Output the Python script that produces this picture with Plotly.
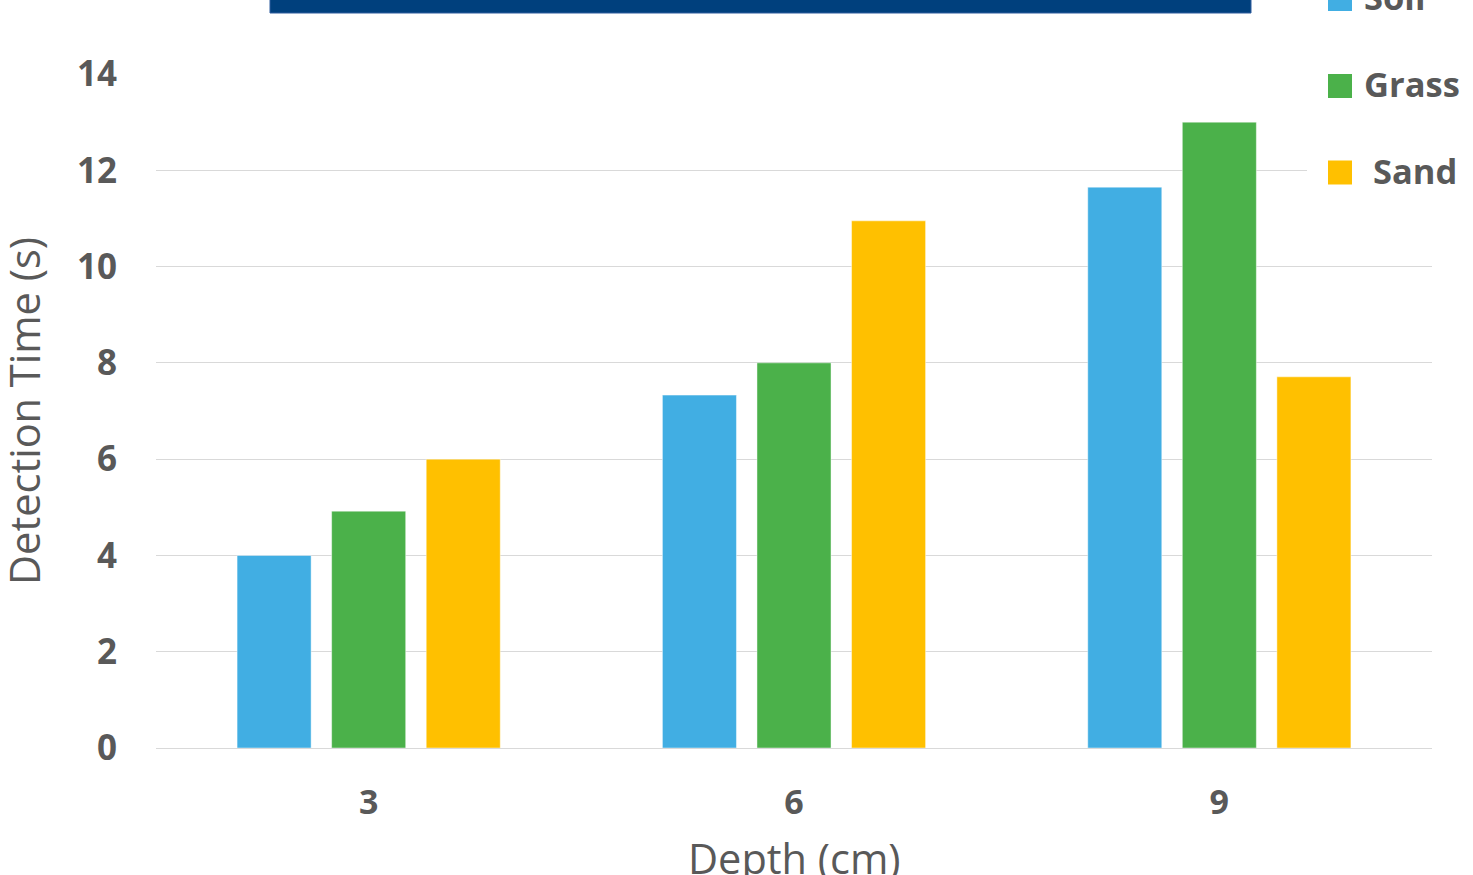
import plotly.graph_objects as go

# Detection time by burial depth for three ground covers
depths = ["3", "6", "9"]
series_names = ["Soil", "Grass", "Sand"]
soil_times = [4.0, 7.33, 11.65]
grass_times = [4.92, 8.0, 13.0]
sand_times = [6.0, 10.95, 7.71]
series_colors = ["#41AEE3", "#4BB14A", "#FFC000"]

W, H = 1473, 875
ML, MR, MT, MB = 156, 41, 74, 127
PW, PH = W - ML - MR, H - MT - MB


def px_x(x):
    return (x - ML) / PW


def px_y(y):
    return (H - MB - y) / PH


TEXT_GREY = "#595959"
GRID = "#D9D9D9"

fig = go.Figure()
for name, vals, col in zip(series_names, [soil_times, grass_times, sand_times], series_colors):
    fig.add_trace(go.Bar(
        x=depths, y=vals, name=name,
        marker=dict(color=col, line=dict(color="rgba(255,255,255,0.45)", width=1)),
        showlegend=False,
    ))

shapes = [
    # header band across the top
    dict(type="rect", xref="paper", yref="paper",
         x0=px_x(270), x1=px_x(1251), y0=px_y(13), y1=px_y(-20),
         fillcolor="#00407D", line=dict(color="#2E5C9E", width=1), layer="above"),
    # legend backdrop
    dict(type="rect", xref="paper", yref="paper",
         x0=px_x(1307), x1=px_x(W + 5), y0=px_y(220), y1=px_y(-5),
         fillcolor="white", line=dict(width=0), layer="above"),
]

annotations = [
    dict(text="Detection Time (s)", xref="paper", yref="paper",
         x=px_x(24), y=0.5, xanchor="center", yanchor="middle", textangle=-90,
         showarrow=False, font=dict(family="Open Sans", size=41.5, color=TEXT_GREY)),
    dict(text="Depth (cm)", xref="paper", yref="paper",
         x=px_x(794), y=px_y(858), xanchor="center", yanchor="middle",
         showarrow=False, font=dict(family="Open Sans", size=41.5, color=TEXT_GREY)),
]

# legend entries: square swatch + label
legend_rows = [(-1, 0), (86, 0), (172.5, 9)]
for (cy, dx), name, col in zip(legend_rows, series_names, series_colors):
    shapes.append(dict(type="rect", xref="paper", yref="paper",
                       x0=px_x(1328), x1=px_x(1352), y0=px_y(cy + 12), y1=px_y(cy - 12),
                       fillcolor=col, line=dict(width=0), layer="above"))
    annotations.append(dict(text=name, xref="paper", yref="paper",
                            x=px_x(1362 + dx), y=px_y(cy - 2.5), xanchor="left", yanchor="middle",
                            showarrow=False,
                            font=dict(family="Open Sans", size=34.5, color=TEXT_GREY, weight="bold")))

fig.update_layout(
    width=W, height=H,
    margin=dict(l=ML, r=MR, t=MT, b=MB, autoexpand=False),
    paper_bgcolor="white", plot_bgcolor="white",
    barmode="group", bargap=0.333, bargroupgap=0.217,
    shapes=shapes, annotations=annotations,
    showlegend=False,
)
fig.update_xaxes(
    type="category", showgrid=False, zeroline=False, showline=False, ticks="",
    ticklabelstandoff=31,
    tickfont=dict(family="Open Sans", size=34, color=TEXT_GREY, weight="bold"),
)
fig.update_yaxes(
    range=[0, 14], dtick=2, showgrid=True, gridcolor=GRID, gridwidth=1,
    zeroline=True, zerolinecolor=GRID, zerolinewidth=1, showline=False, ticks="",
    ticklabelstandoff=38,
    tickfont=dict(family="Open Sans", size=35, color=TEXT_GREY, weight="bold"),
)

fig.write_html("out.html")
